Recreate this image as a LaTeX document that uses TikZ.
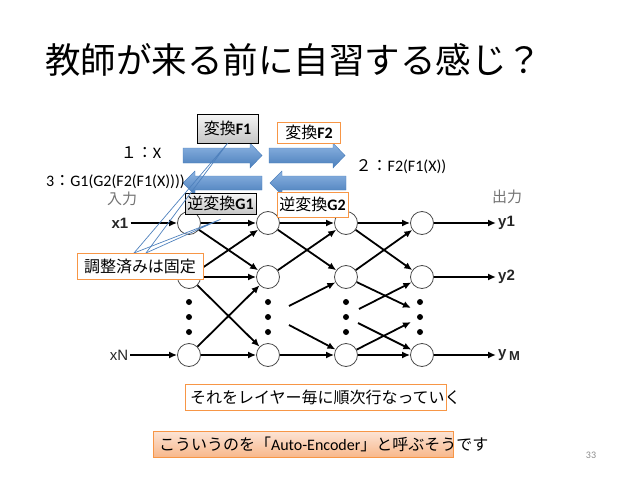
\documentclass[tikz,border=0pt]{standalone}
\usepackage{fontspec}
\setmainfont{Carlito}
\newfontfamily\jp{Noto Sans CJK JP}
\newfontfamily\netfont{Liberation Sans}
\usetikzlibrary{positioning,calc,arrows.meta}
\definecolor{boxorange}{HTML}{F79646}
\definecolor{calloutblue}{HTML}{4F81BD}
\definecolor{arrowlight}{HTML}{8DB4E2}
\definecolor{arrowdark}{HTML}{4A7EBB}
\definecolor{peachtop}{HTML}{FCE4D6}
\definecolor{peachbottom}{HTML}{F8B88B}

\begin{document}
\begin{tikzpicture}[x=1pt,y=-1pt,
    neuron/.style={circle,draw=black!70,fill=white,line width=0.8pt,minimum size=23pt,inner sep=0pt},
    dot/.style={circle,fill=black,minimum size=6pt,inner sep=0pt},
    wire/.style={-{Latex[length=8pt,width=7pt]},line width=1.8pt},
    io/.style={font=\netfont\bfseries\fontsize{15}{17}\selectfont,text=black!85,inner sep=2pt},
    graybox/.style={draw=black,line width=0.8pt,top color=gray!8,bottom color=gray!45,inner sep=0pt,font=\fontsize{16}{18}\selectfont},
    obox/.style={draw=boxorange,line width=1pt,fill=white,inner sep=0pt,font=\fontsize{16}{18}\selectfont},
    lbl/.style={inner sep=0pt,font=\fontsize{16}{18}\selectfont},
    blockarrow/.style={draw=arrowdark,line width=0.4pt,top color=arrowlight,bottom color=arrowdark},
    callout/.style={draw=calloutblue,line width=0.7pt}
    ]
    \useasboundingbox (0,0) rectangle (638,479);

    \node [anchor=west,inner sep=0pt,font=\jp\fontsize{35.5}{40}\selectfont] (title) at (45,60) {教師が来る前に自習する感じ？};

    % network
    \node [neuron] (a1) at (189,223) {};
    \node [neuron] (a2) at (189,277) {};
    \node [neuron] (aN) at (189,355) {};
    \node [neuron] (b1) at (268,223) {};
    \node [neuron] (b2) at (268,277) {};
    \node [neuron] (bN) at (268,355) {};
    \node [neuron] (c1) at (346,223) {};
    \node [neuron] (c2) at (346,277) {};
    \node [neuron] (cN) at (346,355) {};
    \node [neuron] (d1) at (422,223) {};
    \node [neuron] (d2) at (422,277) {};
    \node [neuron] (dN) at (422,355) {};
    \foreach \col/\x in {a/189,b/268,c/346,d/420}
        \foreach \i/\y in {1/302,2/317,3/332}
            \node [dot] (\col dot\i) at (\x,\y) {};

    \node [io] (x1) at (120,223) {x1};
    \node [io,font=\netfont\fontsize{15}{17}\selectfont] (xN) at (119,355) {xN};
    \node [io,anchor=west] (y1) at (496,223) {y1};
    \node [io,anchor=west] (y2) at (496,277) {y2};
    \node [io,anchor=west] (yM) at (496,355) {y\,\raisebox{-3pt}{\fontsize{13}{15}\selectfont M}};
    \node [text=black!55,inner sep=0pt,font=\jp\fontsize{15}{17}\selectfont] (inlabel) at (122,199) {入力};
    \node [text=black!55,inner sep=0pt,font=\jp\fontsize{15}{17}\selectfont] (outlabel) at (507,197) {出力};

    \coordinate (bs1) at (289,306);
    \coordinate (bs2) at (289,325);
    \coordinate (cs1) at (359,309);
    \coordinate (cs2) at (358,323);
    \coordinate (de1) at (411,308);
    \coordinate (de2) at (411,322);

    \draw [wire] (x1) -- (a1);
    \draw [wire] (xN) -- (aN);
    \draw [wire] (a1) -- (b1);
    \draw [wire] (a1) -- (b2);
    \draw [wire] (a2) -- (b1);
    \draw [wire] (a2) -- (b2);
    \draw [wire] (a2) -- (bN);
    \draw [wire] (aN) -- (b2);
    \draw [wire] (aN) -- (bN);
    \draw [wire] (b1) -- (c1);
    \draw [wire] (b1) -- (c2);
    \draw [wire] (b2) -- (c1);
    \draw [wire] (bs1) -- (c2);
    \draw [wire] (bs2) -- (cN);
    \draw [wire] (bN) -- (cN);
    \draw [wire] (c1) -- (d1);
    \draw [wire] (c1) -- (d2);
    \draw [wire] (c2) -- (d1);
    \draw [wire] (c2) -- (de1);
    \draw [wire] (cs1) -- (d2);
    \draw [wire] (cs2) -- (dN);
    \draw [wire] (cN) -- (de2);
    \draw [wire] (cN) -- (dN);
    \draw [wire] (d1) -- (d1 -| y1.west);
    \draw [wire] (d2) -- (d2 -| y2.west);
    \draw [wire] (dN) -- (dN -| yM.west);

    % block arrows
    \shade [blockarrow] (183,148) -- (250,148) -- (250,143) -- (262,155.5) -- (250,168) -- (250,163) -- (183,163) -- cycle;
    \shade [blockarrow] (269,148) -- (333,148) -- (333,143) -- (345,155.5) -- (333,168) -- (333,163) -- (269,163) -- cycle;
    \shade [blockarrow] (262,176) -- (195,176) -- (195,171) -- (183,183) -- (195,195) -- (195,190) -- (262,190) -- cycle;
    \shade [blockarrow] (346,176) -- (282,176) -- (282,171) -- (270,183) -- (282,195) -- (282,190) -- (346,190) -- cycle;

    \node [lbl] (step1) at (141,153) {{\jp １：}X};
    \node [lbl] (step2) at (401,167) {{\jp ２：}F2(F1(X))};
    \node [lbl,anchor=west] (step3) at (46,182) {3{\jp ：}G1(G2(F2(F1(X))))};

    \node [graybox,minimum width=61pt,minimum height=29pt] (F1) at (227.5,128.5) {{\jp 変換}\textbf{F1}};
    \node [obox,minimum width=63pt,minimum height=21pt] (F2) at (309,132.5) {{\jp 変換}\textbf{F2}};
    \node [graybox,minimum width=71pt,minimum height=21pt] (G1) at (220.5,203.5) {{\jp 逆変換}\textbf{G1}};
    \node [obox,minimum width=71pt,minimum height=25pt] (G2) at (312.5,204.5) {{\jp 逆変換}\textbf{G2}};

    \draw [callout] ([xshift=-6pt]140,253) -- (F1.south) -- ([xshift=6pt]140,253);
    \draw [callout] ([xshift=-6pt]140,253) -- ([yshift=-5pt]G1.south) -- ([xshift=6pt]140,253);
    \node [obox,minimum width=126pt,minimum height=26pt,font=\jp\fontsize{16}{18}\selectfont] (fixed) at (140,266) {調整済みは固定};

    \node [obox,minimum width=261pt,minimum height=26pt,font=\fontsize{16}{18}\selectfont] (layerwise) at (315.5,397) {\makebox[251pt][l]{\jp それをレイヤー毎に順次行なっていく}};
    \node [draw=boxorange,line width=1pt,top color=peachtop,bottom color=peachbottom,inner sep=0pt,minimum width=300pt,minimum height=26pt,font=\fontsize{16}{18}\selectfont] (autoenc) at (303,444) {\makebox[288pt][l]{{\jp こういうのを「}Auto-Encoder{\jp 」と呼ぶそうです}}};

    \node [text=black!45,inner sep=0pt,font=\fontsize{10}{12}\selectfont] (page) at (591,455) {33};
\end{tikzpicture}
\end{document}
